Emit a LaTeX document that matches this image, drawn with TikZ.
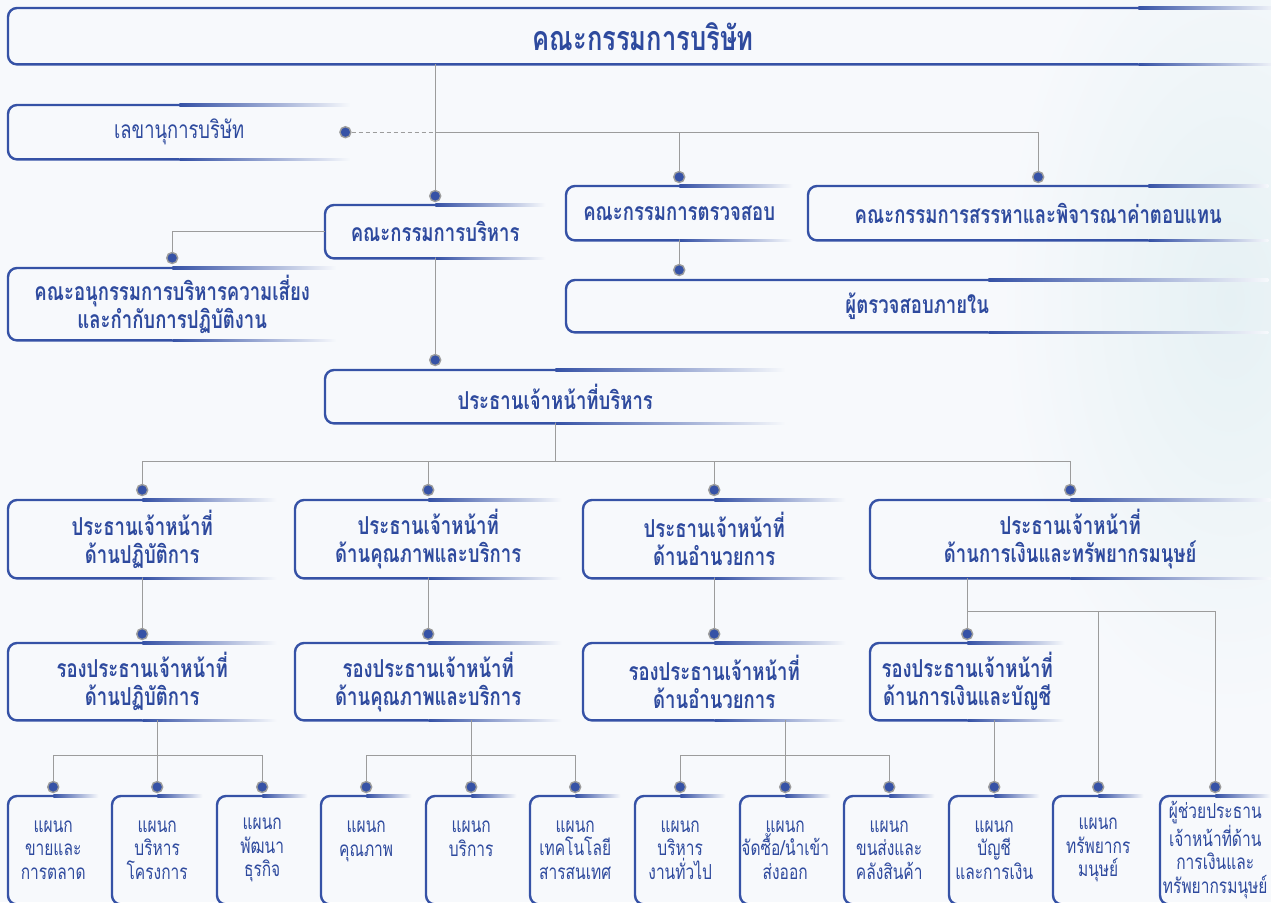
\documentclass[tikz,border=0pt]{standalone}
\usepackage{fontspec}
\newfontfamily\thaifont[Script=Thai,FakeStretch=0.75]{Loma}
\usetikzlibrary{calc}
\definecolor{boxblue}{HTML}{3652A6}
\definecolor{boxtext}{HTML}{2E4A9E}
\definecolor{linkgray}{HTML}{9C9C9C}
\definecolor{bgcol}{HTML}{F7F9FC}
\definecolor{wash}{HTML}{E6F1F4}
\begin{document}
\begin{tikzpicture}[x=1pt,y=-1pt,
	orgbox/.style={anchor=north west,inner sep=0pt,align=center,text=boxtext,font=\thaifont\bfseries\fontsize{24.7}{28}\selectfont},
	deptbox/.style={orgbox,font=\thaifont\fontsize{20.7}{23.5}\selectfont},
	dot/.style={circle,fill=boxblue,draw=linkgray,line width=1.4pt,inner sep=0pt,minimum size=11pt},
	link/.style={draw=linkgray,line width=1.2pt}]
		\clip (0,0) rectangle (1271,902);
		\fill[bgcol] (0,0) rectangle (1271,902);
		\shade[inner color=wash,outer color=bgcol] (1230,300) ellipse (230 and 420);
		\node[orgbox,minimum width=1270pt,minimum height=56pt,font=\thaifont\bfseries\fontsize{34}{36}\selectfont] (board) at (8,8) {คณะกรรมการบริษัท};
		\node[orgbox,minimum width=342pt,minimum height=54pt,font=\thaifont\fontsize{24.5}{28}\selectfont] (secr) at (8,105) {เลขานุการบริษัท};
		\node[orgbox,minimum width=220pt,minimum height=53pt] (exe) at (325,205) {คณะกรรมการบริหาร};
		\node[orgbox,minimum width=226pt,minimum height=54pt] (aud) at (566,186) {คณะกรรมการตรวจสอบ};
		\node[orgbox,minimum width=460pt,minimum height=54pt] (nom) at (808,186) {คณะกรรมการสรรหาและพิจารณาค่าตอบแทน};
		\node[orgbox,minimum width=702pt,minimum height=52pt] (iaud) at (566,280) {ผู้ตรวจสอบภายใน};
		\node[orgbox,minimum width=328pt,minimum height=72pt] (risk) at (8,268) {คณะอนุกรรมการบริหารความเสี่ยง\\และกำกับการปฏิบัติงาน};
		\node[orgbox,minimum width=460pt,minimum height=53pt] (ceo) at (325,370) {ประธานเจ้าหน้าที่บริหาร};
		\foreach \n/\x/\w/\t in {ops/8/268/ด้านปฏิบัติการ,qs/295/266/ด้านคุณภาพและบริการ,adm/583/262/ด้านอำนวยการ,fin/870/400/ด้านการเงินและทรัพยากรมนุษย์}{
				\node[orgbox,minimum width=\w pt,minimum height=78pt] (\n) at (\x,500) {ประธานเจ้าหน้าที่\\\t};
			}
		\foreach \n/\x/\w/\t in {vops/8/268/ด้านปฏิบัติการ,vqs/295/266/ด้านคุณภาพและบริการ,vadm/583/262/ด้านอำนวยการ,vfin/870/194/ด้านการเงินและบัญชี}{
				\node[orgbox,minimum width=\w pt,minimum height=77pt] (\n) at (\x,643) {รองประธานเจ้าหน้าที่\\\t};
			}
		\foreach \i/\x/\w/\t in {1/8/90/{แผนก\\ขายและ\\การตลาด},2/112/90/{แผนก\\บริหาร\\โครงการ},3/217/90/{แผนก\\พัฒนา\\ธุรกิจ},
				4/321/90/{แผนก\\คุณภาพ\\~},5/426/90/{แผนก\\บริการ\\~},6/530/90/{แผนก\\เทคโนโลยี\\สารสนเทศ},
				7/635/90/{แผนก\\บริหาร\\งานทั่วไป},8/740/90/{แผนก\\จัดซื้อ/นำเข้า\\ส่งออก},9/844/90/{แผนก\\ขนส่งและ\\คลังสินค้า},
				10/949/90/{แผนก\\บัญชี\\และการเงิน},11/1053/90/{แผนก\\ทรัพยากร\\มนุษย์},12/1160/110/{ผู้ช่วยประธาน\\เจ้าหน้าที่ด้าน\\การเงินและ\\ทรัพยากรมนุษย์}}{
				\node[deptbox,minimum width=\w pt,minimum height=108pt] (p\i) at (\x,796) {\t};
			}
		\foreach \n/\f in {board/140,secr/171,exe/110,aud/113,nom/120,iaud/280,risk/164,ceo/230,
				ops/134,qs/133,adm/131,fin/200,vops/134,vqs/133,vadm/131,vfin/97,
				p1/45,p2/45,p3/45,p4/45,p5/45,p6/45,p7/45,p8/45,p9/45,p10/45,p11/45,p12/55}{
				\draw[boxblue,line width=2.4pt,rounded corners=9pt] ($(\n.north east)+(-\f,0)$) -- (\n.north west) -- (\n.south west) -- ($(\n.south east)+(-\f,0)$);
				\shade[left color=boxblue,right color=bgcol] ($(\n.north east)+(-\f,-1.2)$) rectangle ($(\n.north east)+(0,1.2)$);
				\shade[left color=boxblue,right color=bgcol] ($(\n.south east)+(-\f,-1.2)$) rectangle ($(\n.south east)+(0,1.2)$);
			}
		\node[dot] (dsecr) at ($(secr.east)+(-5,0)$) {};
		\node[dot] (dexe) at ($(exe.north)+(0,-9)$) {};
		\node[dot] (daud) at ($(aud.north)+(0,-9)$) {};
		\node[dot] (dnom) at ($(nom.north)+(0,-9)$) {};
		\node[dot] (drisk) at ($(risk.north)+(0,-10)$) {};
		\node[dot] (diaud) at ($(aud.south |- iaud.north)+(0,-10)$) {};
		\node[dot] (dceo) at ($(exe.south |- ceo.north)+(0,-10)$) {};
		\foreach \n in {ops,qs,adm,fin}{
				\node[dot] (d\n) at ($(\n.north)+(0,-10)$) {};
			}
		\foreach \n in {vops,vqs,vadm,vfin}{
				\node[dot] (d\n) at ($(\n.north)+(0,-9)$) {};
			}
		\foreach \i in {1,...,12}{
				\node[dot] (dp\i) at ($(p\i.north)+(0,-9)$) {};
			}
		\draw[link] (board.south -| dexe) -- (dexe);
		\draw[link,dash pattern=on 4pt off 3pt] (dsecr) -- (dsecr -| dexe);
		\draw[link] (dsecr -| dexe) -| (dnom);
		\draw[link] (dsecr -| daud) -- (daud);
		\draw[link] (exe.west) -| (drisk);
		\draw[link] (aud.south) -- (diaud);
		\draw[link] (exe.south) -- (dceo);
		\coordinate (ceobus) at ($(ceo.south)+(0,38)$);
		\draw[link] (ceo.south) -- (ceobus);
		\draw[link] (dops) |- (ceobus) -| (dfin);
		\foreach \n in {qs,adm}{
				\draw[link] (d\n) -- (d\n |- ceobus);
			}
		\foreach \n in {ops,qs,adm}{
				\draw[link] (\n.south) -- (dv\n);
			}
		\draw[link] (dvfin |- fin.south) -- (dvfin);
		\coordinate (finbus) at ($(dvfin |- fin.south)+(0,33)$);
		\draw[link] (finbus) -| (dp12);
		\draw[link] (dp11 |- finbus) -- (dp11);
		\foreach \a/\b/\c/\v in {1/2/3/vops,4/5/6/vqs,7/8/9/vadm}{
				\draw[link] (dp\b |- \v.south) -- (dp\b);
				\draw[link] (dp\a) |- ($(dp\b |- \v.south)+(0,35)$) -| (dp\c);
			}
		\draw[link] (dp10 |- vfin.south) -- (dp10);
	\end{tikzpicture}
\end{document}
